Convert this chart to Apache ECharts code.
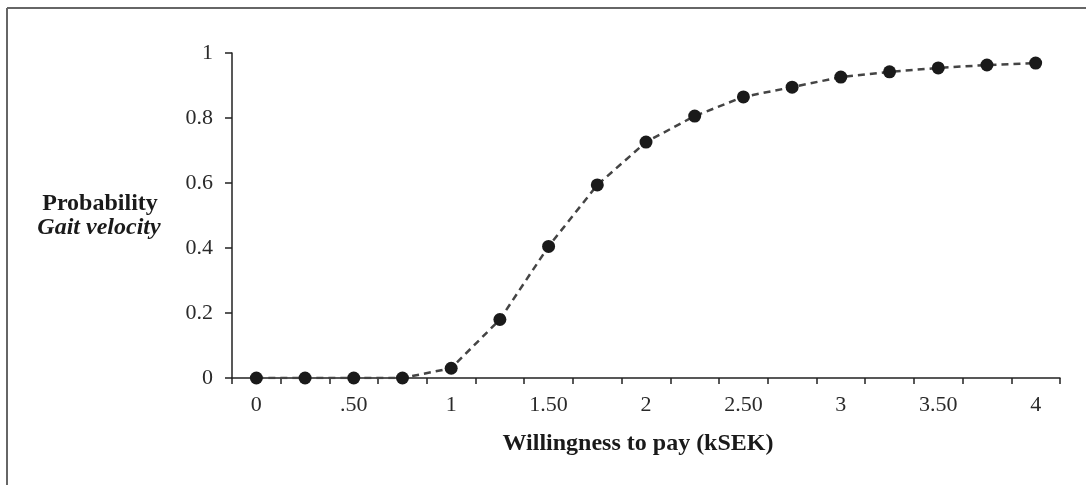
<!DOCTYPE html>
<html>
<head>
<meta charset="utf-8">
<script src="https://cdn.jsdelivr.net/npm/echarts@6/dist/echarts.min.js"></script>
<style>
html,body{margin:0;padding:0;background:#fff;}
#c{width:1086px;height:485px;}
</style>
</head>
<body>
<div id="c"></div>
<script>
const categories = ['0','.25','.50','.75','1','1.25','1.50','1.75','2','2.25','2.50','2.75','3','3.25','3.50','3.75','4'];
const probability = [0, 0, 0, 0, 0.03, 0.18, 0.405, 0.594, 0.726, 0.806, 0.865, 0.895, 0.926, 0.942, 0.954, 0.963, 0.969];
const yTicks = [0, 0.2, 0.4, 0.6, 0.8, 1];
const xTitle = 'Willingness to pay (kSEK)';
const yTitle1 = 'Probability';
const yTitle2 = 'Gait velocity';

const font = 'Liberation Serif';
const chart = echarts.init(document.getElementById('c'));
chart.setOption({
  animation: false,
  backgroundColor: '#fff',
  grid: {left: 232, right: 26, top: 53, bottom: 107, containLabel: false},
  xAxis: {
    type: 'category',
    data: categories,
    boundaryGap: true,
    axisLine: {lineStyle: {color: '#222', width: 1.5}},
    axisTick: {show: true, interval: 0, length: 6, lineStyle: {color: '#222', width: 1.5}},
    axisLabel: {interval: 1, color: '#2a2a2a', fontFamily: font, fontSize: 22, margin: 16},
    name: xTitle,
    nameLocation: 'middle',
    nameGap: 54,
    nameTextStyle: {color: '#1a1a1a', fontFamily: font, fontSize: 24, fontWeight: 'bold', padding: [0, 16, 0, 0]}
  },
  yAxis: {
    type: 'value',
    min: yTicks[0],
    max: yTicks[yTicks.length - 1],
    interval: 0.2,
    axisLine: {show: true, lineStyle: {color: '#222', width: 1.5}},
    axisTick: {show: true, length: 7, lineStyle: {color: '#222', width: 1.5}},
    splitLine: {show: false},
    axisLabel: {color: '#2a2a2a', fontFamily: font, fontSize: 22, margin: 19,
      formatter: v => String(Math.round(v * 10) / 10)}
  },
  graphic: [
    {type: 'line', shape: {x1: 7, y1: 8, x2: 1086, y2: 8}, style: {stroke: '#666', lineWidth: 2}},
    {type: 'line', shape: {x1: 7, y1: 8, x2: 7, y2: 485}, style: {stroke: '#666', lineWidth: 2}},
    {type: 'text', x: 100, y: 204, style: {text: yTitle1, font: 'bold 24px "Liberation Serif"', fill: '#1a1a1a', textAlign: 'center', textVerticalAlign: 'middle'}},
    {type: 'text', x: 99, y: 228, style: {text: yTitle2, font: 'italic bold 24px "Liberation Serif"', fill: '#1a1a1a', textAlign: 'center', textVerticalAlign: 'middle'}}
  ],
  series: [{
    type: 'line',
    data: probability,
    symbol: 'circle',
    symbolSize: 13,
    itemStyle: {color: '#1a1a1a'},
    lineStyle: {color: '#444', width: 2.5, type: [7, 5]},
    smooth: false
  }]
});
</script>
</body>
</html>
